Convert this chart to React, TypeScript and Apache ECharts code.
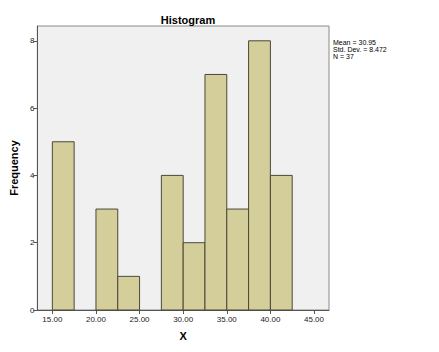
import React, { useEffect, useRef } from "react";
import * as echarts from "echarts";

const binStarts = [15, 17.5, 20, 22.5, 25, 27.5, 30, 32.5, 35, 37.5, 40];
const counts = [5, 0, 3, 1, 0, 4, 2, 7, 3, 8, 4];
const binWidth = 2.5;
const xTicks = [15, 20, 25, 30, 35, 40, 45];
const yTicks = [0, 2, 4, 6, 8];
const statsLines = ["Mean = 30.95", "Std. Dev. = 8.472", "N = 37"];

export default function App() {
  const ref = useRef<HTMLDivElement>(null);
  useEffect(() => {
    if (!ref.current) return;
    const chart = echarts.init(ref.current, null, { renderer: "svg" });
    const data = binStarts
      .map((s, i) => [s, s + binWidth, counts[i]])
      .filter((d) => d[2] > 0);
    const font = "'Liberation Sans', Arial, sans-serif";
    chart.setOption({
      animation: false,
      backgroundColor: "#ffffff",
      title: {
        text: "Histogram",
        left: 183,
        top: 9,
        textAlign: "center",
        textStyle: { fontFamily: font, fontSize: 11, fontWeight: "bold", color: "#000" },
      },
      graphic: statsLines.map((t, i) => ({
        type: "text",
        left: 333,
        top: 39 + i * 7,
        style: {
          text: t,
          fontFamily: font,
          fontSize: 7,
          lineHeight: 7,
          fill: "#000",
        },
      })),
      grid: {
        left: 37,
        top: 26,
        width: 292,
        height: 284,
        show: true,
        backgroundColor: "#f0f0f0",
        borderColor: "#8a8a8a",
        borderWidth: 1,
      },
      xAxis: {
        type: "value",
        min: 13.28,
        max: 46.72,
        name: "X",
        nameLocation: "middle",
        nameGap: 20,
        nameTextStyle: { fontFamily: font, fontSize: 11, fontWeight: "bold", color: "#000" },
        axisLine: { show: true, lineStyle: { color: "#555", width: 1 } },
        axisTick: { show: true, length: 4, customValues: xTicks, lineStyle: { color: "#555" } },
        axisLabel: {
          customValues: xTicks,
          formatter: (v: number) => v.toFixed(2),
          fontFamily: font,
          fontSize: 8,
          color: "#222",
          margin: 5,
        },
        splitLine: { show: false },
      },
      yAxis: {
        type: "value",
        min: 0,
        max: 8.44,
        name: "Frequency",
        nameLocation: "middle",
        nameGap: 17,
        nameTextStyle: { fontFamily: font, fontSize: 11, fontWeight: "bold", color: "#000" },
        axisLine: { show: true, lineStyle: { color: "#555", width: 1 } },
        axisTick: { show: true, length: 4, customValues: yTicks, lineStyle: { color: "#555" } },
        axisLabel: {
          customValues: yTicks,
          fontFamily: font,
          fontSize: 8,
          color: "#222",
          margin: 3,
        },
        splitLine: { show: false },
      },
      series: [
        {
          type: "custom",
          data,
          renderItem: (params: any, api: any) => {
            const p0 = api.coord([api.value(0), api.value(2)]);
            const p1 = api.coord([api.value(1), 0]);
            return {
              type: "rect",
              shape: { x: p0[0], y: p0[1], width: p1[0] - p0[0], height: p1[1] - p0[1] },
              style: { fill: "#d3ce9a", stroke: "#4a4838", lineWidth: 1 },
            };
          },
        },
      ],
    });
    return () => chart.dispose();
  }, []);
  return (
    <div
      ref={ref}
      style={{ position: "absolute", left: 0, top: 0, width: 439, height: 352 }}
    />
  );
}
